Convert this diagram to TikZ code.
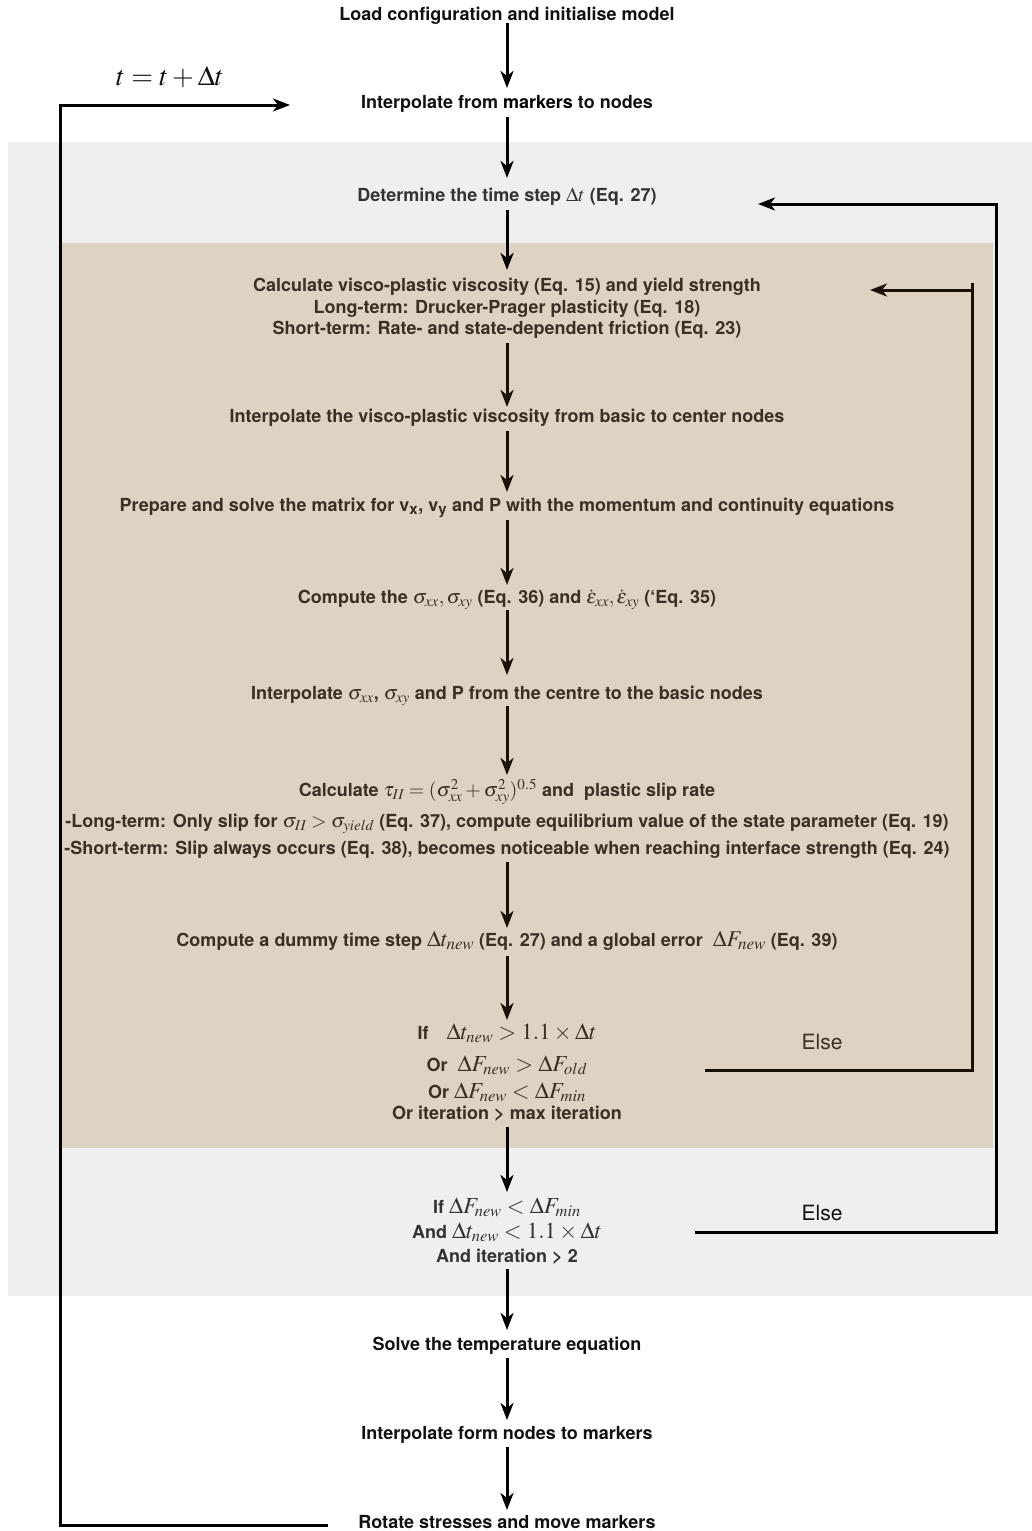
\documentclass[tikz,border=0pt]{standalone}
\usepackage{mathptmx}
\usepackage[no-math]{fontspec}
\setmainfont{TeX Gyre Heros}
\DeclareMathSizes{18}{20}{15}{11}
\DeclareMathSizes{22.5}{22.5}{17}{12}
\DeclareMathSizes{23}{23}{16.5}{12}
\DeclareMathSizes{28}{28}{20}{14}
\usetikzlibrary{arrows.meta}
\definecolor{graybg}{RGB}{239,239,239}
\definecolor{beigebg}{RGB}{222,211,195}
\definecolor{outtxt}{RGB}{17,17,17}
\definecolor{graytxt}{RGB}{51,51,51}
\definecolor{beigetxt}{RGB}{58,47,35}
\definecolor{beigeline}{RGB}{26,17,6}
\tikzset{
  lbl/.style={anchor=base, inner sep=0pt, font=\fontsize{18}{21}\selectfont\bfseries},
  outlbl/.style={lbl, text=outtxt},
  graylbl/.style={lbl, text=graytxt},
  beigelbl/.style={lbl, text=beigetxt},
  arr/.style={line width=3pt, -{Stealth[length=17pt,width=13pt,inset=5pt]}},
  conn/.style={line width=3pt},
  elselbl/.style={anchor=base, inner sep=0pt, font=\fontsize{21}{24}\selectfont},
}
\newcommand{\mathmid}[1]{{\fontsize{22.5}{25}\selectfont$#1$}}
\newcommand{\mathbigger}[1]{{\fontsize{23}{26}\selectfont$#1$}}
\begin{document}
\begin{tikzpicture}[x={(1pt,0pt)},y={(0pt,-1pt)}]
\useasboundingbox (0,0) rectangle (1032,1531);
% regions
\fill[graybg] (8,142) rectangle (1032,1296);
\fill[beigebg] (60,243) rectangle (993,1148);

% nodes
\node[outlbl] (load) at (507,20.5) {Load configuration and initialise model};
\node[outlbl] (markers) at (507,108.5) {Interpolate from \textcolor{black}{markers} to nodes};
\node[anchor=base, inner sep=0pt, font=\fontsize{28}{31}\selectfont, text=outtxt] (tupd) at (170,85) {$t = t + \Delta t$};
\node[graylbl] (determine) at (507,201.5) {Determine the time step $\Delta t$ (Eq. 27)};
\node[beigelbl] (calc1) at (507,291.5) {Calculate visco-plastic viscosity (Eq. 15) and yield strength};
\node[beigelbl] (calc2) at (507,313.5) {Long-term: Drucker-Prager plasticity (Eq. 18)};
\node[beigelbl] (calc3) at (507,334.5) {Short-term: Rate- and state-dependent friction (Eq. 23)};
\node[beigelbl] (interpvisc) at (507,422.5) {Interpolate the visco-plastic viscosity from basic to center nodes};
\node[beigelbl] (prepare) at (507,511.5) {Prepare and solve the matrix for v\textsubscript{x}, v\textsubscript{y} and P with the momentum and continuity equations};
\node[beigelbl] (compute) at (507,603.5) {Compute the $\sigma_{xx}, \sigma_{xy}$ (Eq. 36) and $\dot{\epsilon}_{xx}, \dot{\epsilon}_{xy}$ (`Eq. 35)};
\node[beigelbl] (interpsig) at (507,699.5) {Interpolate $\sigma_{xx}$, $\sigma_{xy}$ and P from the centre to the basic nodes};
\node[beigelbl] (tau1) at (507,796.5) {Calculate $\tau_{II} = (\sigma_{xx}^2 + \sigma_{xy}^2)^{0.5}$ and\ \ plastic slip rate};
\node[beigelbl] (tau2) at (507,827.5) {-Long-term: Only slip for $\sigma_{II} > \sigma_{yield}$ (Eq. 37), compute equilibrium value of the state parameter (Eq. 19)};
\node[beigelbl] (tau3) at (507,854.5) {-Short-term: Slip always occurs (Eq. 38), becomes noticeable when reaching interface strength (Eq. 24)};
\node[beigelbl] (dummy) at (507,946.5) {Compute a dummy time step \mathmid{\Delta t_{new}}\ (Eq. 27) and a global error\ \ \mathmid{\Delta F_{new}}\ (Eq. 39)};
\node[beigelbl] (if1a) at (507,1039.5) {If\quad\mathbigger{\Delta t_{new} > 1.1 \times \Delta t}};
\node[beigelbl] (if1b) at (507,1071.5) {Or\ \ \mathbigger{\Delta F_{new} > \Delta F_{old}}};
\node[beigelbl] (if1c) at (507,1098.5) {Or \mathbigger{\Delta F_{new} < \Delta F_{min}}};
\node[beigelbl] (if1d) at (507,1119.5) {Or iteration > max iteration};
\node[graylbl] (if2a) at (507,1213.5) {If \mathbigger{\Delta F_{new} < \Delta F_{min}}};
\node[graylbl] (if2b) at (507,1238.5) {And \mathbigger{\Delta t_{new} < 1.1 \times \Delta t}};
\node[graylbl] (if2c) at (507,1262.5) {And iteration > 2};
\node[outlbl] (solve) at (507,1350.5) {Solve the temperature equation};
\node[outlbl] (interpform) at (507,1439.5) {Interpolate form nodes to markers};
\node[outlbl] (rotate) at (507,1528.5) {Rotate stresses and move markers};
\node[elselbl, text=beigetxt] (else1) at (822,1049.5) {Else};
\node[elselbl, text=outtxt] (else2) at (822,1220.5) {Else};

% main arrows
\draw[arr, shorten <=2.5pt, shorten >=20.5pt] (load.base) -- (markers.base);
\draw[arr, shorten <=8.5pt, shorten >=23.5pt] (markers.base) -- (determine.base);
\draw[arr, shorten <=8.5pt, shorten >=21.5pt] (determine.base) -- (calc1.base);
\begin{scope}[beigeline]
\draw[arr, shorten <=8.5pt, shorten >=15.5pt] (calc3.base) -- (interpvisc.base);
\draw[arr, shorten <=8.5pt, shorten >=19.5pt] (interpvisc.base) -- (prepare.base);
\draw[arr, shorten <=8.5pt, shorten >=18.5pt] (prepare.base) -- (compute.base);
\draw[arr, shorten <=6.5pt, shorten >=24.5pt] (compute.base) -- (interpsig.base);
\draw[arr, shorten <=6.5pt, shorten >=21.5pt] (interpsig.base) -- (tau1.base);
\draw[arr, shorten <=7.5pt, shorten >=18.5pt] (tau3.base) -- (dummy.base);
\draw[arr, shorten <=9.5pt, shorten >=19.5pt] (dummy.base) -- (if1a.base);
\end{scope}
\draw[arr, shorten <=7.5pt, shorten >=21.5pt] (if1d.base) -- (if2a.base);
\draw[arr, shorten <=6.5pt, shorten >=20.5pt] (if2c.base) -- (solve.base);
\draw[arr, shorten <=7.5pt, shorten >=19.5pt] (solve.base) -- (interpform.base);
\draw[arr, shorten <=7.5pt, shorten >=18.5pt] (interpform.base) -- (rotate.base);

% loops
\coordinate (lbot) at (328,1525);
\coordinate (lcorner1) at (60,1525);
\coordinate (lcorner2) at (60,105);
\coordinate (ltip) at (290,105);
\draw[arr] (lbot) -- (lcorner1) -- (lcorner2) -- (ltip);

\coordinate (o1) at (695,1232);
\coordinate (o2) at (996,1232);
\coordinate (o3) at (996,204);
\coordinate (otip) at (758,204);
\draw[arr] (o1) -- (o2) -- (o3) -- (otip);

\coordinate (i1) at (705,1070);
\coordinate (i2) at (972,1070);
\coordinate (i3) at (972,283);
\coordinate (i4) at (972,290);
\coordinate (itip) at (870,290);
\draw[conn, beigeline] (i1) -- (i2) -- (i3);
\draw[arr, beigeline] (i4) -- (itip);
\end{tikzpicture}
\end{document}
